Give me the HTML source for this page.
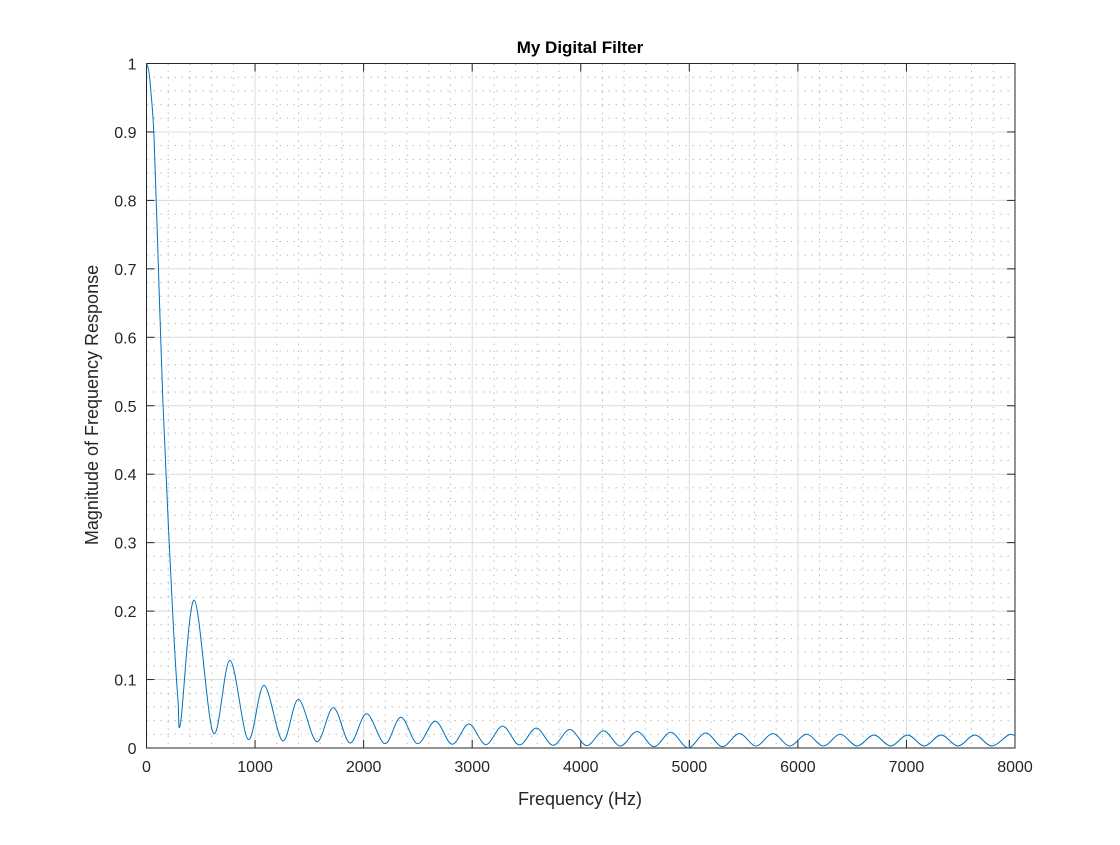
<!DOCTYPE html>
<html><head><meta charset="utf-8"><style>
html,body{margin:0;padding:0;background:#fff;}
svg text{font-family:"Liberation Sans",Arial,sans-serif;fill:#262626;}
</style></head><body>
<svg id="chart" width="1120" height="840" xmlns="http://www.w3.org/2000/svg">
<rect width="1120" height="840" fill="#fff"/>
<g id="grid"></g>
<g id="axes"></g>
<path id="curve" fill="none" stroke="#0072BD" stroke-width="1"/>
<text x="580" y="53" text-anchor="middle" font-size="17" font-weight="bold" style="fill:#000">My Digital Filter</text>
<text x="580" y="805" text-anchor="middle" font-size="18">Frequency (Hz)</text>
<text transform="translate(98,405) rotate(-90)" text-anchor="middle" font-size="18">Magnitude of Frequency Response</text>
</svg>
<script>
const freqHz = [0,20,40,70,110,150,200,250,290,315,440,615,769,936,1082,1254,1399,1568,1721,1874,2027,2196,2343,2497,2660,2815,2970,3125,3280,3435,3590,3745,3900,4055,4210,4365,4520,4675,4830,4990,5150,5305,5460,5615,5770,5925,6080,6235,6390,6545,6700,6855,7010,7165,7320,7475,7630,7785,7940,8000];
const magnitude = [1,0.99,0.96,0.89,0.7,0.51,0.33,0.17,0.07,0.038,0.216,0.022,0.128,0.0127,0.0915,0.0105,0.071,0.0092,0.059,0.0073,0.05,0.0063,0.045,0.0063,0.039,0.0055,0.035,0.005,0.032,0.0045,0.029,0.004,0.027,0.0035,0.025,0.003,0.024,0.002,0.023,0.0002,0.022,0.002,0.021,0.003,0.021,0.003,0.02,0.003,0.02,0.003,0.019,0.003,0.019,0.003,0.019,0.003,0.019,0.003,0.019,0.018];
const xTicks = [0,1000,2000,3000,4000,5000,6000,7000,8000];
const yTicks = [0,0.1,0.2,0.3,0.4,0.5,0.6,0.7,0.8,0.9,1];

const L=146.5,R=1015,T=63.5,B=748;
const xs=v=>L+(v/8000)*(R-L);
const ys=v=>B-v*(B-T);
const NS='http://www.w3.org/2000/svg';
function mk(tag,attrs,parent){const e=document.createElementNS(NS,tag);for(const k in attrs)e.setAttribute(k,attrs[k]);parent.appendChild(e);return e;}
const grid=document.getElementById('grid'),axes=document.getElementById('axes');
// minor grid
for(let f=200;f<8000;f+=200){if(f%1000===0)continue;
 const l=mk('line',{x1:xs(f),x2:xs(f),y1:T,y2:B,stroke:'#bdbdbd','stroke-width':1,'stroke-dasharray':'1.5,5.5'},grid);
 
 }
for(let i=1;i<50;i++){if(i%5===0)continue;const v=i*0.02;
 const l=mk('line',{x1:L,x2:R,y1:ys(v),y2:ys(v),stroke:'#bdbdbd','stroke-width':1,'stroke-dasharray':'1.5,5.5'},grid);
 
 }
// major grid & ticks
xTicks.forEach(v=>{const x=xs(v);
 const g=mk('line',{x1:x,x2:x,y1:T,y2:B,stroke:'#dcdcdc','stroke-width':1},grid);
 
 
 mk('line',{x1:x,x2:x,y1:B,y2:B-8,stroke:'#262626','stroke-width':1},axes);
 mk('line',{x1:x,x2:x,y1:T,y2:T+8,stroke:'#262626','stroke-width':1},axes);
 const t=mk('text',{x:x,y:B+24,'text-anchor':'middle','font-size':16},axes);t.textContent=v;
 
 });
yTicks.forEach(v=>{const y=ys(v);
 const g=mk('line',{x1:L,x2:R,y1:y,y2:y,stroke:'#dcdcdc','stroke-width':1},grid);
 
 
 mk('line',{x1:L,x2:L+8,y1:y,y2:y,stroke:'#262626','stroke-width':1},axes);
 mk('line',{x1:R,x2:R-8,y1:y,y2:y,stroke:'#262626','stroke-width':1},axes);
 const t=mk('text',{x:L-10,y:y+6,'text-anchor':'end','font-size':16},axes);t.textContent=String(v);
 
 });
const box=mk('rect',{x:L,y:T,width:R-L,height:B-T,fill:'none',stroke:'#262626','stroke-width':1},axes);


// curve: Catmull-Rom through data points
const P=freqHz.map((f,i)=>[xs(f),ys(magnitude[i])]);
let d='M'+P[0][0]+','+P[0][1];
for(let i=0;i<P.length-1;i++){const p0=P[Math.max(0,i-1)],p1=P[i],p2=P[i+1],p3=P[Math.min(P.length-1,i+2)];
 let c1y=p1[1]+(p2[1]-p0[1])/6,c2y=p2[1]-(p3[1]-p1[1])/6;
 c1y=Math.min(c1y,B);c2y=Math.min(c2y,B);
 d+=' C'+(p1[0]+(p2[0]-p0[0])/6)+','+c1y+' '+(p2[0]-(p3[0]-p1[0])/6)+','+c2y+' '+p2[0]+','+p2[1];}
document.getElementById('curve').setAttribute('d',d);
</script>
</body></html>
